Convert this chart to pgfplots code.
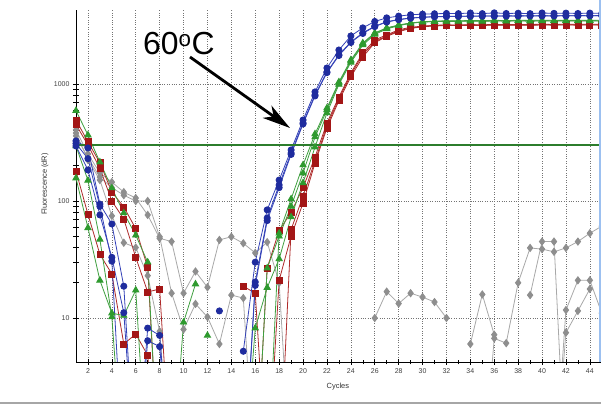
\documentclass[border=0pt]{standalone}
\usepackage{pgfplots}
\pgfplotsset{compat=1.18}
\usepackage{pgfplotstable}
\usepackage{fontspec}
\setmainfont{Liberation Sans}
\usetikzlibrary{arrows.meta}
\definecolor{blm}{HTML}{1F2C9E}
\definecolor{bll}{HTML}{3442B8}
\definecolor{grm}{HTML}{2E9A2E}
\definecolor{grl}{HTML}{40A040}
\definecolor{rdm}{HTML}{A31616}
\definecolor{rdl}{HTML}{AE2A2A}
\definecolor{gym}{HTML}{8E8E8E}
\definecolor{gyl}{HTML}{A8A8A8}
\definecolor{thr}{HTML}{2C7D2C}
\definecolor{edge}{HTML}{9CC0F0}

\pgfplotstableread{
x b1 b2 b3
1 326 295 310
2 284 184 230
3 94 76 90
4 63.6 33 30.6
5 18.7 11.1 0.4
6 0.4 0.4 nan
7 8.2 6.4 nan
8 7.1 5.7 nan
9 0.4 0.4 nan
10 nan nan nan
11 nan nan nan
12 nan nan nan
13 11.5 nan nan
14 nan nan nan
15 5.2 0.4 0.4
16 30 20.3 19
17 84 71.6 68
18 151 137 130
19 273 257 250
20 492 464 455
21 855 805 790
22 1370 1267 1250
23 1950 1771 1750
24 2570 2286 2260
25 3015 2730 2700
26 3420 3120 3090
27 3670 3400 3380
28 3800 3560 3540
29 3900 3660 3650
30 3950 3720 3710
31 3980 3760 3750
32 4000 3780 3770
33 3990 3790 3780
34 4040 3800 3790
35 3990 3810 3800
36 4050 3800 3810
37 4000 3820 3800
38 4020 3810 3820
39 3990 3830 3810
40 4040 3820 3820
41 4010 3830 3810
42 4030 3820 3830
43 4000 3840 3820
44 4030 3830 3830
45 4010 3840 3820
}\blue
\pgfplotstableread{
x g1 g2 g3
1 592 157 295
2 366 59 150
3 215 21 47
4 129 11 10.2
5 79 10.5 0.4
6 51 17.3 nan
7 30 0.4 nan
8 0.4 nan nan
9 nan 0.4 nan
10 nan 9.2 nan
11 nan 19.5 nan
12 nan nan 7.1
13 nan nan nan
14 nan nan nan
15 nan 0.4 nan
16 nan 8.2 0.4
17 0.4 18.2 26.7
18 53 32 50
19 104 73 90
20 203 143 173
21 374 289 352
22 623 565 600
23 1040 990 1020
24 1603 1530 1570
25 2240 2150 2200
26 2730 2650 2700
27 3015 2950 2990
28 3190 3150 3170
29 3320 3300 3310
30 3400 3380 3390
31 3440 3410 3420
32 3470 3420 3440
33 3460 3430 3450
34 3490 3440 3460
35 3470 3430 3450
36 3500 3450 3470
37 3480 3440 3460
38 3500 3450 3470
39 3490 3440 3460
40 3510 3450 3480
41 3490 3450 3470
42 3500 3460 3480
43 3490 3450 3470
44 3510 3460 3480
45 3500 3450 3470
}\green
\pgfplotstableread{
x r1 r2 r3
1 492 180 450
2 320 77 300
3 212 35 190
4 119 23.8 100
5 89 6 70
6 58 7.3 33
7 27 4.8 16.7
8 0.4 0.4 17.7
9 nan nan 0.4
10 nan nan nan
11 nan nan nan
12 nan nan nan
13 nan nan nan
14 nan nan nan
15 nan 18.7 nan
16 0.4 16.3 nan
17 26.7 0.4 nan
18 56 21 0.4
19 80 50 57
20 130 96 110
21 237 211 220
22 464 420 440
23 774 720 750
24 1241 1150 1200
25 1843 1700 1780
26 2378 2250 2300
27 2625 2550 2580
28 2900 2800 2850
29 3050 2980 3000
30 3120 3080 3100
31 3170 3130 3150
32 3200 3150 3180
33 3190 3160 3170
34 3220 3170 3190
35 3200 3160 3180
36 3230 3180 3200
37 3210 3170 3190
38 3230 3180 3200
39 3220 3170 3190
40 3240 3190 3210
41 3220 3180 3200
42 3240 3190 3210
43 3230 3180 3200
44 3240 3190 3210
45 3230 3180 3200
}\red
\pgfplotstableread{
x a b c d
1 405 381 360 nan
2 252 224 235 nan
3 174 151 160 nan
4 145 74.6 130 nan
5 119 44 112 nan
6 106 40 100 nan
7 76 23 100 nan
8 48 7.7 49.5 nan
9 45 0.4 16.3 nan
10 16.3 nan 8 nan
11 25 nan 13.2 nan
12 18.3 nan 10.2 nan
13 46.5 nan 6 nan
14 49.5 nan 15.7 nan
15 43.5 nan 14.8 nan
16 36 nan 0.4 nan
17 44.5 nan nan nan
18 20 nan nan nan
19 0.4 nan nan nan
20 nan nan nan nan
21 nan nan nan nan
22 nan nan nan nan
23 nan nan nan nan
24 nan nan nan nan
25 nan nan nan nan
26 10 nan nan nan
27 16.8 nan nan nan
28 13.3 nan nan nan
29 16.3 nan nan nan
30 15.1 nan nan nan
31 13.7 nan nan nan
32 10 nan nan nan
33 nan nan nan nan
34 nan 6 nan nan
35 nan 15.9 0.4 nan
36 nan 7.2 6.7 nan
37 nan nan 6.1 nan
38 nan nan 20 nan
39 nan nan 39.7 15.7
40 nan nan 38.8 45
41 0.4 0.4 36.8 45
42 11.7 7.5 39.7 0.4
43 21 11.5 45 nan
44 21 17.7 53 nan
45 11 nan 61 nan
}\gray

\begin{document}
\begin{tikzpicture}
\useasboundingbox (0,0) rectangle (601bp,405bp);
\fill[white] (0,0) rectangle (601bp,405bp);
\begin{axis}[
  at={(76bp,43bp)}, anchor=south west,
  scale only axis, width=525.8bp, height=352bp,
  xmin=1, xmax=45, ymode=log, ymin=4.21, ymax=4285,
  axis lines=left, axis line style={-, black, line width=0.9bp},
  xtick={2,4,...,44}, minor x tick num=1,
  ytick={10,100,1000}, yticklabels={10,100,1000},
  tick align=center, major tick length=6bp, minor tick length=5bp,
  tick style={black, line width=0.6bp},
  grid=major, major grid style={dotted, black!55, line width=0.6bp},
  /pgf/number format/assume math mode=true,
  tick label style={font=\fontsize{7}{8}\selectfont, text=black!75},
  xlabel={Cycles}, ylabel={Fluorescence (dR)},
  label style={font=\fontsize{7.5}{9}\selectfont, text=black!80},
  xlabel style={at={(axis description cs:0.498,-0.071)}, anchor=center},
  ylabel style={at={(axis description cs:-0.059,0.506)}, anchor=center},
  unbounded coords=jump,
  every axis plot/.append style={line width=0.8bp, mark options={solid}},
]
% gray
\foreach \c in {a,b,c,d}{
  \addplot[gyl, mark=diamond*, mark size=3.6bp, mark options={fill=gym, draw=gym}] table[x=x, y=\c] {\gray};
}
% red
\foreach \c in {r1,r2,r3}{
  \addplot[rdl, mark=square*, mark size=3bp, mark options={fill=rdm, draw=rdm}] table[x=x, y=\c] {\red};
}
% green
\foreach \c in {g1,g2,g3}{
  \addplot[grl, mark=triangle*, mark size=3.6bp, mark options={fill=grm, draw=grm}] table[x=x, y=\c] {\green};
}
% blue
\foreach \c in {b1,b2,b3}{
  \addplot[bll, mark=*, mark size=3.1bp, mark options={fill=blm, draw=blm}] table[x=x, y=\c] {\blue};
}
% threshold
\addplot[thr, line width=1.6bp, mark=none] coordinates {(1,300) (45,300)};
\end{axis}
\node[anchor=base west, font=\fontsize{32}{36}\selectfont, inner sep=0pt] at (143bp,350bp) {60\textsuperscript{o}C};
\draw[line width=2.8bp, -{Stealth[length=28bp,width=15bp,inset=8bp]}] (190bp,348bp) -- (290bp,277bp);
\draw[edge, line width=1.4bp] (600bp,43bp) -- (600bp,405bp);
\draw[black!35, line width=1.5bp] (0,2bp) -- (601bp,2bp);
\end{tikzpicture}
\end{document}
